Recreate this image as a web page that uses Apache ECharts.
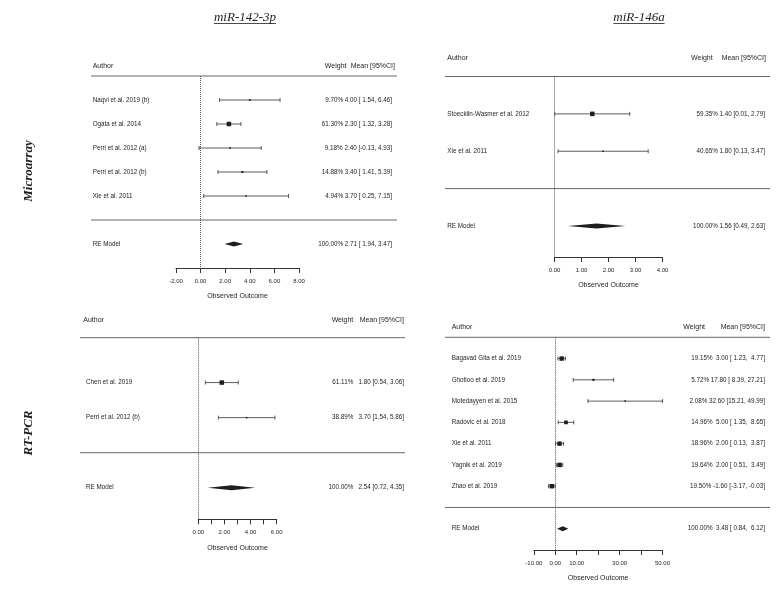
<!DOCTYPE html>
<html><head><meta charset="utf-8">
<script src="https://cdn.jsdelivr.net/npm/echarts@6/dist/echarts.min.js"></script>
<style>html,body{margin:0;padding:0;background:#fff}#c{width:780px;height:597px}</style>
</head><body><div id="c"></div>
<script>
// ---------- DATA ----------
const colTitles = ['miR-142-3p', 'miR-146a'];
const rowTitles = ['Microarray', 'RT-PCR'];

// miR-142-3p, Microarray
const p1Authors = ['Naqvi et al. 2019 (b)', 'Ogata et al. 2014', 'Perri et al. 2012 (a)', 'Perri et al. 2012 (b)', 'Xie et al. 2011'];
const p1Means   = [4.00, 2.30, 2.40, 3.40, 3.70];
const p1Lower   = [1.54, 1.32, -0.13, 1.41, 0.25];
const p1Upper   = [6.46, 3.28, 4.93, 5.39, 7.15];
const p1Weights = [9.70, 61.30, 9.18, 14.88, 4.94];
const p1RE      = [2.71, 1.94, 3.47];
const p1Ticks   = [-2, 0, 2, 4, 6, 8];
const p1TickLabels = [-2, 0, 2, 4, 6, 8];

// miR-146a, Microarray
const p2Authors = ['Stoecklin-Wasmer et al. 2012', 'Xie et al. 2011'];
const p2Means   = [1.40, 1.80];
const p2Lower   = [0.01, 0.13];
const p2Upper   = [2.79, 3.47];
const p2Weights = [59.35, 40.65];
const p2RE      = [1.56, 0.49, 2.63];
const p2Ticks   = [0, 1, 2, 3, 4];
const p2TickLabels = [0, 1, 2, 3, 4];

// miR-142-3p, RT-PCR
const p3Authors = ['Chen et al. 2019', 'Perri et al. 2012 (b)'];
const p3Means   = [1.80, 3.70];
const p3Lower   = [0.54, 1.54];
const p3Upper   = [3.06, 5.86];
const p3Weights = [61.11, 38.89];
const p3RE      = [2.54, 0.72, 4.35];
const p3Ticks   = [0, 1, 2, 3, 4, 5, 6];
const p3TickLabels = [0, 2, 4, 6];

// miR-146a, RT-PCR
const p4Authors = ['Bagavad Gita et al. 2019', 'Ghotloo et al. 2019', 'Motedayyen et al. 2015', 'Radovic et al. 2018', 'Xie et al. 2011', 'Yagnik et al. 2019', 'Zhao et al. 2019'];
const p4Means   = [3.00, 17.80, 32.60, 5.00, 2.00, 2.00, -1.60];
const p4Lower   = [1.23, 8.39, 15.21, 1.35, 0.13, 0.51, -3.17];
const p4Upper   = [4.77, 27.21, 49.99, 8.65, 3.87, 3.49, -0.03];
const p4Weights = [19.15, 5.72, 2.08, 14.96, 18.96, 19.64, 19.50];
const p4RE      = [3.48, 0.84, 6.12];
const p4Ticks   = [-10, 0, 10, 20, 30, 40, 50];
const p4TickLabels = [-10, 0, 10, 30, 50];

const reLabel = 'RE Model';
const reWeight = 100.00;
const headAuthor = 'Author';
const headWeight = 'Weight';
const headMean = 'Mean [95%CI]';
const axisTitle = 'Observed Outcome';

// ---------- LAYOUT ----------
const panels = [
  {authors:p1Authors, means:p1Means, lower:p1Lower, upper:p1Upper, weights:p1Weights, re:p1RE, ticks:p1Ticks, labels:p1TickLabels},
  {authors:p2Authors, means:p2Means, lower:p2Lower, upper:p2Upper, weights:p2Weights, re:p2RE, ticks:p2Ticks, labels:p2TickLabels},
  {authors:p3Authors, means:p3Means, lower:p3Lower, upper:p3Upper, weights:p3Weights, re:p3RE, ticks:p3Ticks, labels:p3TickLabels},
  {authors:p4Authors, means:p4Means, lower:p4Lower, upper:p4Upper, weights:p4Weights, re:p4RE, ticks:p4Ticks, labels:p4TickLabels}
];
const layouts = [
  {left:176,   top:76,    width:123,   height:192,   yMin:-1,    yMax:7,    textX:92.7, headX:92.7, lineL:91, lineR:397, aR:392, gap:' ', headY:66,    hWR:346.5, hMR:395},
  {left:554.5, top:76.5,  width:108,   height:180.5, yMin:-1,    yMax:3.83, textX:447.3, headX:447.3, lineL:445, lineR:770, aR:765, gap:' ', headY:58,  hWR:712.7, hMR:766},
  {left:198.3, top:337.7, width:78.4,  height:181.6, yMin:-1.28, yMax:3.9,  textX:86,   headX:83.3, lineL:80, lineR:405, aR:404, gap:'   ', headY:320,    hWR:353.3, hMR:404},
  {left:533.8, top:337.3, width:128.7, height:212.7, yMin:-1,    yMax:9,    textX:451.7, headX:451.7, lineL:445, lineR:770, aR:765, gap:' ', headY:326.7, hWR:705, hMR:765}
];

const INK = '#1e1e1e';
const SANS = '"Liberation Sans", Arial, sans-serif';
const SERIF = '"Liberation Serif", "Times New Roman", serif';
const ROWFONT = 6.3;

function txt(x, y, s, align, size) {
  return {type:'text', silent:true, style:{text:s, x:x, y:y, align:align, verticalAlign:'middle',
    textAlign:align, textVerticalAlign:'middle', fill:INK, fontSize:size || ROWFONT, fontFamily:SANS}};
}

// annotation string: "weight% mean [lo, hi]" right-aligned (metafor style padding)
function makeFmt(P, gap) {
  const w = s => Math.max(...s.map(v => v.toFixed(2).length));
  const wm = w(P.means.concat([P.re[0]]));
  const wl = w(P.lower.concat([P.re[1]]));
  const wh = w(P.upper.concat([P.re[2]]));
  return (wt, m, lo, hi) => wt.toFixed(2) + '%' + gap + m.toFixed(2).padStart(wm, ' ') + ' [' +
    lo.toFixed(2).padStart(wl, ' ') + ', ' + hi.toFixed(2).padStart(wh, ' ') + ']';
}

const grid = [], xAxis = [], yAxis = [], series = [];

panels.forEach((P, pi) => {
  const L = layouts[pi];
  const fmt = makeFmt(P, L.gap);
  const k = P.authors.length;
  grid.push({left:L.left, top:L.top, width:L.width, height:L.height});
  xAxis.push({
    gridIndex:pi, type:'value', min:P.ticks[0], max:P.ticks[P.ticks.length-1],
    interval:P.ticks[1]-P.ticks[0],
    splitLine:{show:false},
    axisLine:{show:true, onZero:false, lineStyle:{color:'#333', width:1}},
    axisTick:{show:true, length:5, customValues:P.ticks, lineStyle:{color:'#333', width:1}},
    axisLabel:{customValues:P.labels, formatter:v => Number(v).toFixed(2), fontSize:6, color:INK, fontFamily:SANS, margin:10},
    name:axisTitle, nameLocation:'middle', nameGap:25,
    nameTextStyle:{fontSize:7, color:INK, fontFamily:SANS}
  });
  yAxis.push({gridIndex:pi, type:'value', inverse:true, min:L.yMin, max:L.yMax, show:false});

  const wmin = Math.min(...P.weights), wmax = Math.max(...P.weights);
  series.push({
    type:'custom', xAxisIndex:pi, yAxisIndex:pi, animation:false, silent:true,
    encode:{x:[1,2,3], y:0},
    data:P.means.map((m, i) => [i, m, P.lower[i], P.upper[i], P.weights[i]]),
    renderItem:(params, api) => {
      const i = params.dataIndex;
      const row = api.value(0);
      const m = api.value(1), lo = api.value(2), hi = api.value(3), w = api.value(4);
      const pm = api.coord([m, row]), pl = api.coord([lo, row]), ph = api.coord([hi, row]);
      const y = pm[1];
      const ps = (wmax > wmin ? (w - wmin) / (wmax - wmin) : 1) + 0.5;
      const s = ps * 3;
      const ls = {stroke:'#333', lineWidth:0.8};
      return {type:'group', children:[
        {type:'line', shape:{x1:pl[0], y1:y, x2:ph[0], y2:y}, style:ls},
        {type:'line', shape:{x1:pl[0], y1:y-2, x2:pl[0], y2:y+2}, style:ls},
        {type:'line', shape:{x1:ph[0], y1:y-2, x2:ph[0], y2:y+2}, style:ls},
        {type:'rect', shape:{x:pm[0]-s/2, y:y-s/2, width:s, height:s}, style:{fill:INK}},
        txt(L.textX, y, P.authors[i], 'left'),
        txt(L.aR, y, fmt(w, m, lo, hi), 'right')
      ]};
    },
    markLine:{
      silent:true, symbol:['none','none'], animation:false, label:{show:false},
      lineStyle:{type:'dotted', color:'#555', width:1},
      data:[{xAxis:0}]
    }
  });

  series.push({
    type:'custom', xAxisIndex:pi, yAxisIndex:pi, animation:false, silent:true,
    encode:{x:[1,2,3], y:0},
    data:[[k + 1, P.re[0], P.re[1], P.re[2]]],
    renderItem:(params, api) => {
      const row = api.value(0);
      const m = api.value(1), lo = api.value(2), hi = api.value(3);
      const pm = api.coord([m, row]), pl = api.coord([lo, row]), ph = api.coord([hi, row]);
      const y = pm[1];
      const ySep = api.coord([0, k])[1];
      const yHead = api.coord([0, L.yMin])[1];
      const h = 2.6;
      return {type:'group', children:[
        {type:'line', shape:{x1:L.lineL, y1:yHead, x2:L.lineR, y2:yHead}, style:{stroke:'#666', lineWidth:1}},
        {type:'line', shape:{x1:L.lineL, y1:ySep, x2:L.lineR, y2:ySep}, style:{stroke:'#666', lineWidth:1}},
        {type:'polygon', shape:{points:[[pl[0], y], [pm[0], y-h], [ph[0], y], [pm[0], y+h]]}, style:{fill:INK}},
        txt(L.textX, y, reLabel, 'left'),
        txt(L.aR, y, fmt(reWeight, m, lo, hi), 'right'),
        txt(L.headX, L.headY, headAuthor, 'left', 7),
        txt(L.hWR, L.headY, headWeight, 'right', 7),
        txt(L.hMR, L.headY, headMean, 'right', 7)
      ]};
    }
  });
});

// titles with underline
function textWidth(s, font) {
  const c = document.createElement('canvas').getContext('2d');
  c.font = font; return c.measureText(s).width;
}
const graphic = [];
const titleFont = 'italic 13px ' + SERIF;
[[245, colTitles[0]], [639, colTitles[1]]].forEach(([cx, s]) => {
  const w = textWidth(s, titleFont);
  graphic.push({type:'text', silent:true, style:{text:s, x:cx, y:17.5, align:'center', verticalAlign:'middle',
    textAlign:'center', textVerticalAlign:'middle', font:titleFont, fill:INK}});
  graphic.push({type:'line', silent:true, shape:{x1:cx - w/2, y1:23.5, x2:cx + w/2, y2:23.5}, style:{stroke:INK, lineWidth:0.8}});
});
const rowFont = 'italic bold 13px ' + SERIF;
[[171, rowTitles[0]], [433, rowTitles[1]]].forEach(([cy, s]) => {
  graphic.push({type:'text', silent:true, x:28.5, y:cy, rotation:Math.PI/2,
    style:{text:s, x:0, y:0, align:'center', verticalAlign:'middle', textAlign:'center', textVerticalAlign:'middle', font:rowFont, fill:INK}});
});

const chart = echarts.init(document.getElementById('c'), null, {renderer:'canvas'});
chart.setOption({
  backgroundColor:'#ffffff',
  animation:false,
  grid, xAxis, yAxis, series, graphic
});
</script>
</body></html>
